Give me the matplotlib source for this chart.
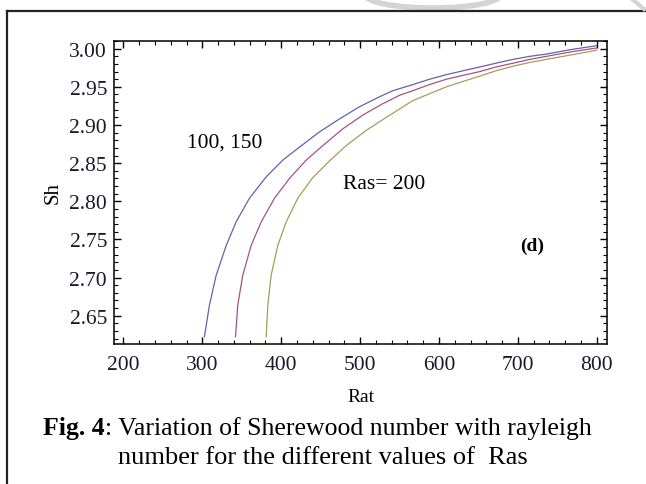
import matplotlib
matplotlib.use("Agg")
import matplotlib.pyplot as plt
from matplotlib.patches import Arc
from matplotlib.ticker import MultipleLocator, FormatStrFormatter

# values (Sh against Rat, one curve per Ras)
ras_labels = ["100", "150", "200"]
rat_100 = [302.6, 309, 317.5, 330.2, 342.8, 359.7, 380.9, 402, 423.1, 448.5, 473.9, 499.3, 524.6, 541.5,
           566.9, 588, 609.2, 630, 651.5, 672, 693.7, 715, 736.1, 768, 800]
sh_100 = [2.6225, 2.664, 2.703, 2.742, 2.773, 2.804, 2.832, 2.854, 2.871, 2.891, 2.908, 2.924, 2.937, 2.945,
          2.953, 2.960, 2.966, 2.971, 2.976, 2.981, 2.986, 2.990, 2.993, 2.999, 3.004]
rat_150 = [342, 344.9, 351.2, 361.8, 374.6, 391.4, 410.5, 431.6, 452.7, 478.1, 503.4, 528.8, 550,
           566.9, 588, 609.2, 630, 651.5, 672, 693.7, 715, 736.1, 768, 800]
sh_150 = [2.6225, 2.664, 2.703, 2.742, 2.773, 2.804, 2.830, 2.854, 2.873, 2.895, 2.913, 2.928, 2.939,
          2.945, 2.953, 2.960, 2.965, 2.970, 2.976, 2.981, 2.986, 2.990, 2.996, 3.001]
rat_200 = [380.9, 383, 387.2, 395.6, 406.3, 421, 440, 461.2, 482.4, 507.8, 533.1, 550,
           566.9, 588, 609.2, 630, 651.5, 672, 693.7, 715, 736.1, 768, 800]
sh_200 = [2.6225, 2.664, 2.703, 2.742, 2.773, 2.804, 2.831, 2.853, 2.873, 2.893, 2.910, 2.921,
          2.932, 2.941, 2.950, 2.957, 2.964, 2.971, 2.977, 2.982, 2.986, 2.992, 2.998]

plt.rcParams['font.family'] = ['Liberation Serif', 'DejaVu Serif']

fig = plt.figure(figsize=(6.46, 4.85), dpi=100)

# page decoration: frame lines and faint watermark
deco = fig.add_axes([0, 0, 1, 1])
deco.set_xlim(0, 646)
deco.set_ylim(485, 0)
deco.axis('off')
deco.plot([6.5, 646], [11.7, 11.7], color='#222222', lw=1.6)
deco.plot([6.5, 6.5], [11.7, 485], color='#222222', lw=1.6)
deco.add_patch(Arc((433, -4), 135, 26, theta1=0, theta2=180, color='#d4d4d4', lw=4))
deco.plot([632, 644], [0, 10], color='#d4d4d4', lw=3)

ax = fig.add_axes([0.1765, 0.2887, 0.7631, 0.6253])
ax.plot(rat_100, sh_100, color='#6262ae', lw=0.9)
ax.plot(rat_150, sh_150, color='#a8527e', lw=0.9)
ax.plot(rat_200, sh_200, color='#a89c5a', lw=0.9)

ax.set_xlim(188, 813)
ax.set_ylim(2.613, 3.0105)
ax.xaxis.set_major_locator(MultipleLocator(100))
ax.xaxis.set_minor_locator(MultipleLocator(20))
ax.yaxis.set_major_locator(MultipleLocator(0.05))
ax.yaxis.set_minor_locator(MultipleLocator(0.01))
ax.yaxis.set_major_formatter(FormatStrFormatter('%.2f'))
ax.tick_params(which='both', direction='in', top=True, right=True, labelsize=15.5, labelcolor='#1a1a2c')
ax.tick_params(which='major', length=5, width=1)
ax.tick_params(which='minor', length=3, width=0.8)
ax.tick_params(axis='x', which='major', pad=8)
ax.tick_params(axis='y', which='major', pad=5)
for s in ax.spines.values():
    s.set_linewidth(1.1)

ax.set_xlabel('Rat', fontsize=14, labelpad=10)
ax.set_ylabel('Sh', fontsize=15, labelpad=5)

ax.text(280, 2.878, ras_labels[0] + ", " + ras_labels[1], fontsize=15.5, va='center', ha='left')
ax.text(478, 2.823, "Ras= " + ras_labels[2], fontsize=15.5, va='center', ha='left')
ax.text(718, 2.742, "(d)", fontsize=14, fontweight='bold', va='center', ha='center')

# caption
fig.text(105 / 646, 1 - 429 / 485, "Fig. 4", fontsize=18.5, fontweight='bold', ha='right', va='center')
fig.text(105 / 646, 1 - 429 / 485, ": Variation of Sherewood number with rayleigh", fontsize=18.5,
         ha='left', va='center')
fig.text(323 / 646, 1 - 458 / 485, "number for the different values of  Ras", fontsize=19,
         ha='center', va='center')

fig.savefig('out.png', dpi=100)
